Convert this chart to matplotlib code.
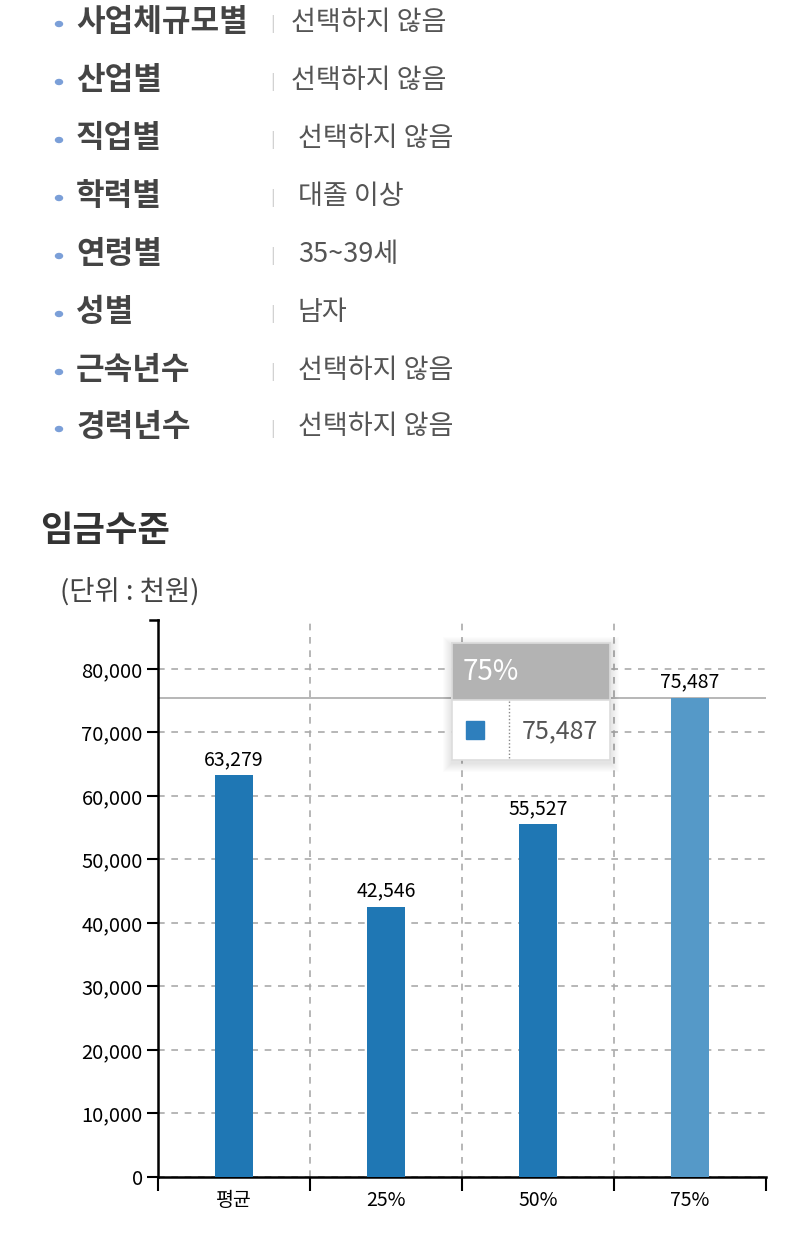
import matplotlib.pyplot as plt
from matplotlib.patches import Rectangle, Ellipse
from matplotlib.ticker import FuncFormatter

plt.rcParams['font.family'] = ['Noto Sans CJK KR', 'DejaVu Sans']

# -----------------------------
# Data
# -----------------------------
filter_names = ["사업체규모별", "산업별", "직업별", "학력별", "연령별", "성별", "근속년수", "경력년수"]
filter_values = ["선택하지 않음", "선택하지 않음", "선택하지 않음", "대졸 이상",
                 "35~39세", "남자", "선택하지 않음", "선택하지 않음"]

categories = ["평균", "25%", "50%", "75%"]
wages = [63279, 42546, 55527, 75487]
highlight = 3   # hovered bar

W, H = 796, 1253


def fx(x):
    return x / W


def fy(y):
    return 1 - y / H


fig = plt.figure(figsize=(W / 100, H / 100), dpi=100)

# -----------------------------
# Filter list on top
# -----------------------------
row_y = [22, 80, 138, 196, 254, 312, 370, 427]
val_x = [291, 291, 298, 298, 298, 298, 298, 298]
for i, (name, val) in enumerate(zip(filter_names, filter_values)):
    y = row_y[i]
    fig.patches.append(Ellipse((fx(59), fy(y + 2)), 7 / W, 5 / H, transform=fig.transFigure,
                               color='#7b9fd8'))
    fig.text(fx(76), fy(y), name, fontsize=22.4, fontweight='bold', color='#444444', va='center')
    fig.text(fx(273), fy(y + 2), "|", fontsize=12, color='#cccccc', va='center', ha='center')
    fig.text(fx(val_x[i]), fy(y), val, fontsize=19.5, color='#555555', va='center')

fig.text(fx(40), fy(530), "임금수준", fontsize=25.4, fontweight='bold', color='#333333', va='center')
fig.text(fx(60), fy(592), "(단위 : 천원)", fontsize=19.8, color='#444444', va='center')

# -----------------------------
# Bar chart
# -----------------------------
ax_l, ax_r, ax_t, ax_b = 158, 766, 620, 1177
ax = fig.add_axes([fx(ax_l), fy(ax_b), (ax_r - ax_l) / W, (ax_b - ax_t) / H])

x = list(range(len(categories)))
colors = ['#5599c8' if i == highlight else '#1f77b4' for i in x]
bars = ax.bar(x, wages, width=0.25, color=colors, zorder=3)

ax.set_xlim(-0.5, len(categories) - 0.5)
ax.set_ylim(0, 87700)
ax.set_yticks(range(0, 80001, 10000))
ax.yaxis.set_major_formatter(FuncFormatter(lambda v, p: f"{int(v):,}"))

# bin boundaries as major ticks, labels on minor ticks
ax.set_xticks([i - 0.5 for i in range(len(categories) + 1)])
ax.set_xticklabels([])
ax.set_xticks(x, minor=True)
ax.set_xticklabels(categories, minor=True)
ax.tick_params(axis='x', which='major', length=10, width=1.5, direction='out')
ax.tick_params(axis='x', which='minor', length=0, pad=9, labelsize=14)
ax.tick_params(axis='y', length=8, width=1.5, labelsize=14.5, pad=3)

ax.grid(axis='y', linestyle=(0, (4, 4)), color='#aaaaaa', linewidth=1.2, zorder=0)
for b in range(1, len(categories)):
    ax.axvline(b - 0.5, linestyle=(0, (4, 4)), color='#aaaaaa', linewidth=1.2, zorder=0)

for s in ['top', 'right']:
    ax.spines[s].set_visible(False)
for s in ['left', 'bottom']:
    ax.spines[s].set_linewidth(1.8)
# outer tick at top of the y axis
ax.plot([-0.013, 0], [1, 1], transform=ax.transAxes, color='black', lw=1.8, clip_on=False)

for xi, v in zip(x, wages):
    ax.text(xi, v + 800, f"{v:,}", ha='center', va='bottom', fontsize=14, color='black', zorder=4)

# hover crosshair
ax.axhline(wages[highlight], color='#aaaaaa', linewidth=1.2, zorder=2)

# -----------------------------
# Tooltip
# -----------------------------
tl, tr, tt, tm, tb = 452, 610, 643, 700, 760
for k in range(1, 10):
    fig.patches.append(Rectangle((fx(tl - k), fy(tb + k + 3)), (tr - tl + 2 * k) / W,
                                 (tb - tt + 2 * k) / H, transform=fig.transFigure,
                                 color='black', alpha=0.012, lw=0, zorder=5))
fig.patches.append(Rectangle((fx(tl), fy(tb)), (tr - tl) / W, (tb - tt) / H,
                             transform=fig.transFigure, facecolor='white', edgecolor='#dddddd',
                             lw=1.2, zorder=6))
fig.patches.append(Rectangle((fx(tl), fy(tm)), (tr - tl) / W, (tm - tt) / H,
                             transform=fig.transFigure, facecolor='#b3b3b3', edgecolor='#dddddd',
                             lw=1.2, zorder=7))
fig.text(fx(463), fy(672), categories[highlight], fontsize=20, color='white', va='center', zorder=8)
fig.patches.append(Rectangle((fx(466), fy(739)), 18 / W, 18 / H, transform=fig.transFigure,
                             color='#2e7fbd', zorder=8))
fig.lines.append(plt.Line2D([fx(509), fx(509)], [fy(701), fy(759)], transform=fig.transFigure,
                            color='#888888', lw=1, linestyle=(0, (1, 1.5)), zorder=8))
fig.text(fx(598), fy(731), f"{wages[highlight]:,}", fontsize=18, color='#555555',
         va='center', ha='right', zorder=8)

plt.savefig('out.png', dpi=100)
